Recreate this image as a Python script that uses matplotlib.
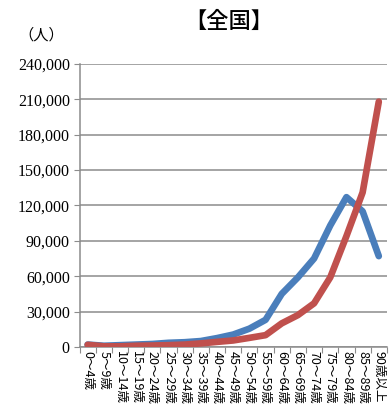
import numpy as np
import matplotlib
matplotlib.use('Agg')
import matplotlib.pyplot as plt
from matplotlib.ticker import FuncFormatter

plt.rcParams['font.family'] = ['Noto Sans CJK JP', 'DejaVu Sans']

# Age groups and head counts per group
age_groups = ['0～4歳', '5～9歳', '10～14歳', '15～19歳', '20～24歳', '25～29歳',
              '30～34歳', '35～39歳', '40～44歳', '45～49歳', '50～54歳', '55～59歳',
              '60～64歳', '65～69歳', '70～74歳', '75～79歳', '80～84歳', '85～89歳',
              '90歳以上']
blue_counts = [2000, 1000, 1500, 2000, 2500, 3500, 4000, 5000, 7500, 10500,
               15500, 23000, 45000, 59000, 75000, 103000, 127000, 115000, 77000]
red_counts = [1800, 500, 500, 1000, 1200, 1500, 2000, 3000, 4300, 5500,
              7700, 10000, 20000, 27000, 37000, 59000, 94000, 131000, 208000]
y_ticks = [0, 30000, 60000, 90000, 120000, 150000, 180000, 210000, 240000]

fig = plt.figure(figsize=(3.9, 4.15), dpi=100)
ax = fig.add_axes([0.204, 0.164, 0.788, 0.682])

x = np.arange(len(age_groups))
ax.plot(x, blue_counts, color='#4a7ebb', lw=4.8, solid_capstyle='round',
        solid_joinstyle='round', zorder=3)
ax.plot(x, red_counts, color='#c0504d', lw=4.8, solid_capstyle='round',
        solid_joinstyle='round', zorder=4)

ax.set_xlim(-0.5, len(age_groups) - 0.5)
ax.set_ylim(0, 240000)
ax.set_yticks(y_ticks)
ax.yaxis.set_major_formatter(FuncFormatter(lambda v, p: f'{int(v):,}'))
for lbl in ax.get_yticklabels():
    lbl.set_family(['Liberation Serif', 'DejaVu Serif'])
    lbl.set_fontsize(11.5)
ax.grid(axis='y', color='#8c8c8c', lw=1.1)
ax.set_axisbelow(True)

# category boundaries carry the tick marks, labels sit at the centres
ax.set_xticks(np.arange(len(age_groups) + 1) - 0.5)
ax.set_xticklabels([])
ax.set_xticks(x, minor=True)
ax.set_xticklabels(age_groups, minor=True, rotation=-90, fontsize=9,
                   va='top', ha='center')
ax.tick_params(axis='x', which='minor', length=0, pad=3)
ax.tick_params(axis='x', which='major', length=4, color='#8c8c8c')
ax.tick_params(axis='y', length=4, color='#8c8c8c', pad=3)

for side in ['top', 'right']:
    ax.spines[side].set_visible(False)
for side in ['left', 'bottom']:
    ax.spines[side].set_color('#8c8c8c')
    ax.spines[side].set_linewidth(1.1)

fig.text(0.587, 0.948, '【全国】', ha='center', va='center', fontsize=16,
         fontweight='medium')
fig.text(0.107, 0.915, '（人）', ha='center', va='center', fontsize=11)

fig.savefig('out.png', dpi=100)
